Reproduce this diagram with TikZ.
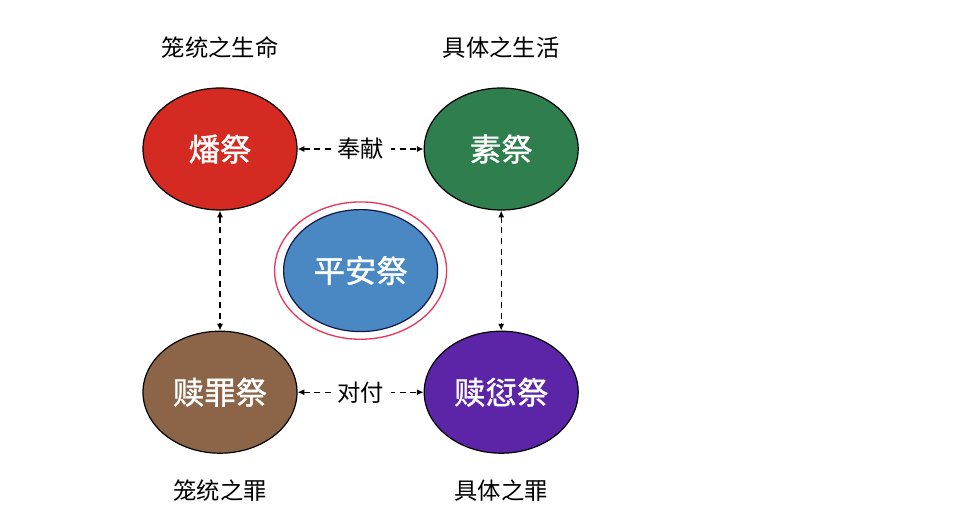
\documentclass[tikz,border=0pt]{standalone}
\usepackage{fontspec}
\setmainfont{Noto Sans CJK SC}
\newfontfamily\offerfont[FakeBold=1.2]{Noto Sans CJK SC}
\usetikzlibrary{positioning,shapes.geometric,arrows.meta,calc}
\definecolor{fanred}{HTML}{D42A22}
\definecolor{sugreen}{HTML}{2F7E4E}
\definecolor{zuibrown}{HTML}{8C6548}
\definecolor{qianpurple}{HTML}{5C25A8}
\definecolor{anblue}{HTML}{4A88C4}
\definecolor{annavy}{HTML}{101848}
\definecolor{ringred}{HTML}{E8365C}

\begin{document}
\begin{tikzpicture}[%
        x=0.75pt, y=-0.75pt,
        node distance=90pt and 94.5pt,
        offer/.style={%
          ellipse,
          minimum width=115.5pt,
          minimum height=91.5pt,
          draw=black, line width=0.9pt,
          text=white,
          font=\offerfont\fontsize{23.5}{26}\selectfont
        },
        tag/.style={font=\fontsize{17.5}{20}\selectfont},
        link/.style={<->, dash pattern=on 4.5pt off 3.5pt,
          >={Latex[length=5pt,width=4.5pt]}, line width=0.9pt}
      ]
      \useasboundingbox (0,0) rectangle (960,511);
      \node[offer, fill=fanred] (fan) at (220,149) {燔祭};
      \node[offer, fill=sugreen] (su) [right=of fan] {素祭};
      \node[offer, fill=zuibrown] (zui) [below=of fan] {赎罪祭};
      \node[offer, fill=qianpurple] (qian) [below=of su] {赎愆祭};
      \node[offer, fill=anblue, draw=annavy] (an) at ($(fan)!0.5!(qian)$) {平安祭};
      \node[ellipse, draw=ringred, line width=1pt,
        minimum width=129pt, minimum height=103pt] (ring) at (an) {};
      % labels
      \node[tag] (fanlab) [above=18pt of fan] {笼统之生命};
      \node[tag] (sulab) [above=18pt of su] {具体之生活};
      \node[tag] (zuilab) [below=16pt of zui] {笼统之罪};
      \node[tag] (qianlab) [below=16pt of qian] {具体之罪};
      \path[link] (fan) edge node[tag, fill=white, inner sep=5pt] {奉献} (su)
      (zui) edge node[tag, fill=white, inner sep=5pt] {对付} (qian)
      (fan) edge (zui)
      (su) edge (qian);
  \end{tikzpicture}
\end{document}
